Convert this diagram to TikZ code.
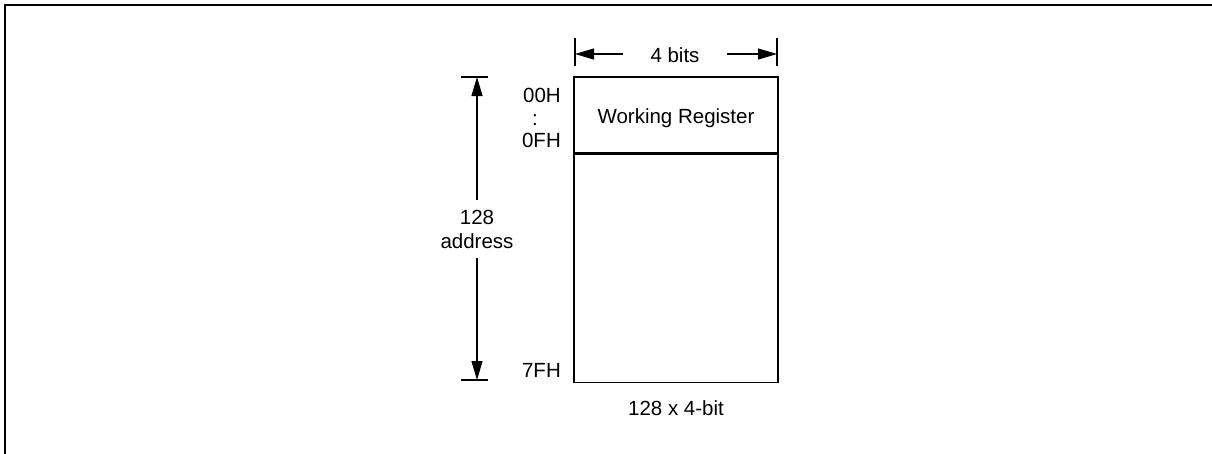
\documentclass[tikz,border=0pt]{standalone}
\usepackage{fontspec}
\setmainfont{Liberation Sans}
\usetikzlibrary{shapes,arrows,arrows.meta,positioning}
\usepackage{xcolor}

\begin{document}
\begin{tikzpicture}[x=1pt, y=-1pt]
\tikzstyle{box} = [rectangle, draw, line width=1.6pt, minimum width=204pt, inner sep=0pt]
\tikzstyle{lbl} = [inner sep=0pt, font=\fontsize{20.5}{24}\selectfont]
\tikzstyle{dim} = [line width=1.1pt, -{Triangle[length=19pt,width=11pt]}]
\tikzstyle{tick} = [line width=1.6pt]

\useasboundingbox (0,0) rectangle (1212,453);
\draw [line width=2.5pt] (5,470) -- (5,5) -- (1230,5);

% memory block
\node [box, minimum height=76pt] (wreg) at (676,115) {};
\node [box, minimum height=228pt, below=0pt of wreg] (ram) {};
\node [lbl, anchor=base] (wregtxt) at (676,123) {Working Register};
\node [lbl, anchor=base] (size) at (676,415) {128 x 4-bit};

% addresses
\node [lbl, anchor=base east] (a00) at (561,102) {00H};
\node [lbl, anchor=base] (adots) at (535,125) {:};
\node [lbl, anchor=base east] (a0f) at (561,147) {0FH};
\node [lbl, anchor=base east] (a7f) at (561,377) {7FH};

% width of a word
\coordinate (hleft) at (575,54);
\coordinate (hright) at (777,54);
\node [lbl, inner xsep=27pt, anchor=base] (bits) at (675,62) {4 bits};
\draw [tick] (575,38) -- (575,66);
\draw [tick] (777,38) -- (777,66);
\draw [dim] (bits.west |- hleft) -- (hleft);
\draw [dim] (bits.east |- hright) -- (hright);

% number of addresses
\coordinate (vtop) at (477,77);
\coordinate (vbot) at (477,380);
\node [lbl, align=center, inner ysep=10pt] (naddr) at (477,229) {128\\address};
\draw [tick] (461,77) -- (488,77);
\draw [tick] (461,380) -- (488,380);
\draw [dim] (naddr.north) -- (vtop);
\draw [dim] (naddr.south) -- (vbot);
\end{tikzpicture}
\end{document}
